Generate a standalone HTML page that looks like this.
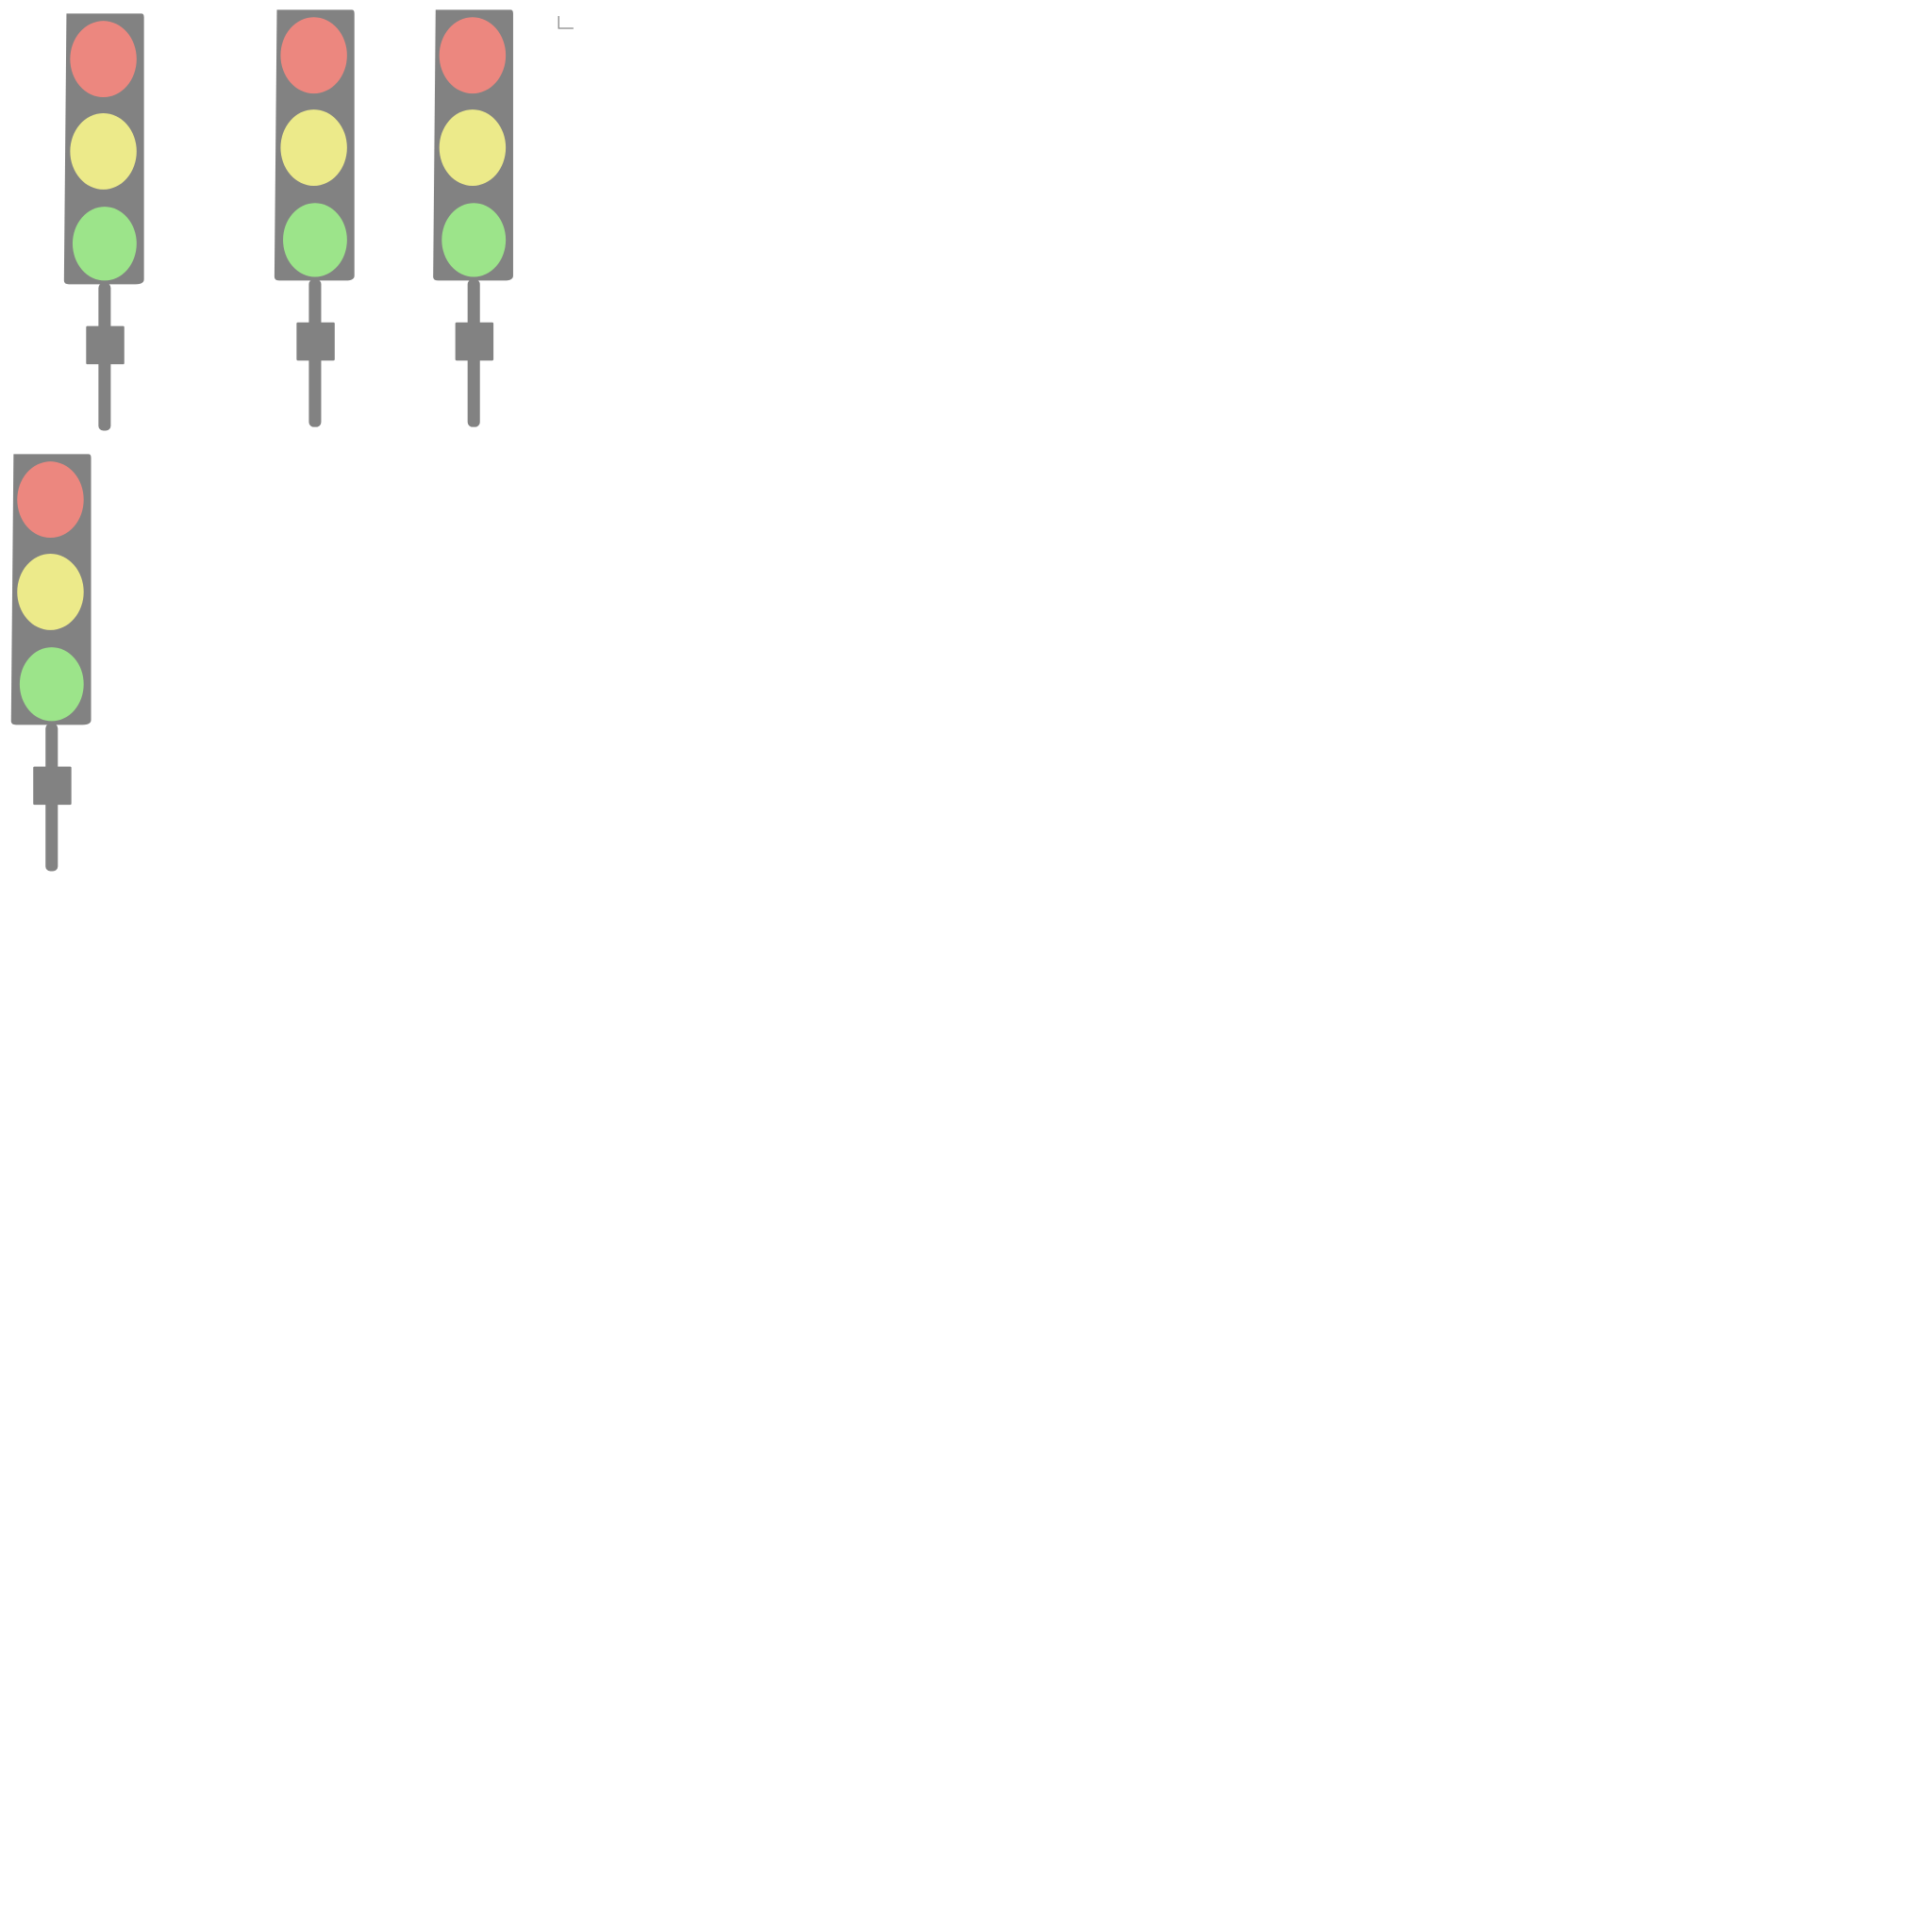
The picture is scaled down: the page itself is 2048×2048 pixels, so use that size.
<!DOCTYPE html>
<html><head><meta charset="utf-8"><style>
html,body{margin:0;padding:0;background:#fff;width:2048px;height:2048px;overflow:hidden}
svg{display:block}
</style></head><body>
<svg width="2048" height="2048" viewBox="0 0 1570 1570">
<defs>
<g id="tl">
  <path d="M1,0 L62,0 Q64,0 64,3 L64,216 Q64,220 57,220 L3,220 Q-1,220 -1,217 Z" fill="#828282"/>
  <ellipse cx="31" cy="37" rx="27" ry="31" fill="#ec877f"/>
  <ellipse cx="31" cy="112" rx="27" ry="31" fill="#ecea8a"/>
  <ellipse cx="32" cy="187" rx="26" ry="30" fill="#9ce48a"/>
  <rect x="27" y="219" width="10" height="120" rx="4" fill="#828282"/>
  <rect x="17" y="254" width="31" height="31" rx="1" fill="#828282"/>
</g>
</defs>
<use href="#tl" transform="translate(53,11)"/>
<use href="#tl" transform="translate(224,8)"/>
<use href="#tl" transform="translate(353,8)"/>
<use href="#tl" transform="translate(10,369)"/>
<g stroke="#888" stroke-width="1" fill="none">
  <path d="M454,13 L454,23 L466,23"/>
</g>
</svg>
</body></html>
